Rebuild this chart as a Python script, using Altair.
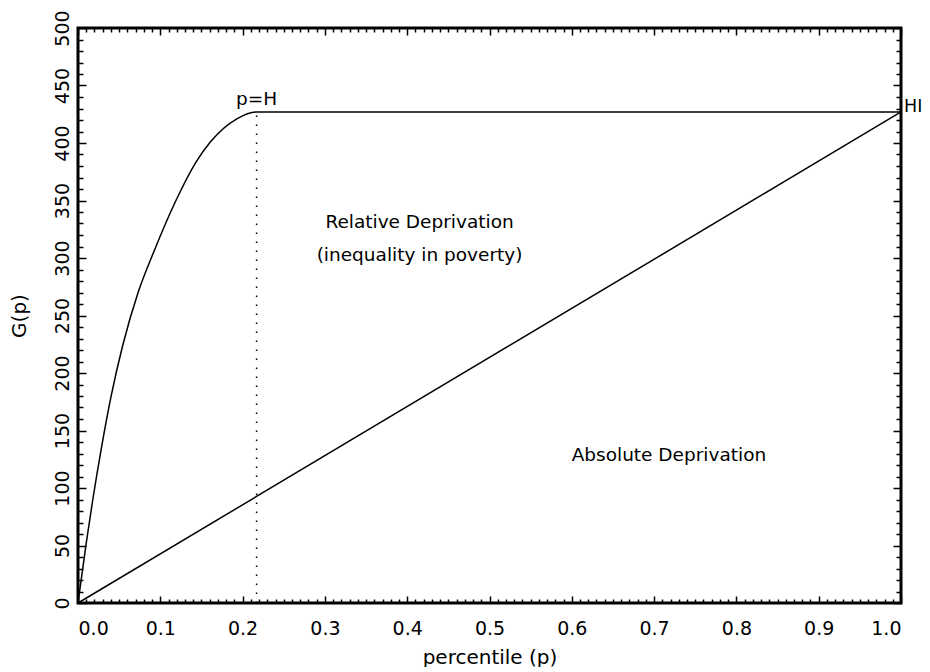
import altair as alt
import pandas as pd

# ---- data ----
p_curve = [0.0, 0.010, 0.018, 0.028, 0.040, 0.054, 0.073, 0.093, 0.119, 0.143, 0.161, 0.193, 0.217, 1.0]
g_curve = [0, 52, 90, 133, 179, 223, 270, 307, 350, 383, 401, 421, 427, 427]

diag_p = [0.0, 1.0]
diag_g = [0, 427]

H = 0.217
HI = 427

ann_text = ["Relative Deprivation", "(inequality in poverty)", "Absolute Deprivation", "p=H"]
ann_p = [0.415, 0.415, 0.718, 0.217]
ann_g = [331, 303, 129, 438]

hi_text = ["HI"]
hi_p = [1.0]
hi_g = [427]

x_major = [round(i * 0.1, 1) for i in range(11)]
x_minor = [round(i * 0.01, 2) for i in range(101) if i % 10 != 0]
y_major = list(range(0, 501, 50))
y_minor = [v for v in range(0, 501, 10) if v % 50 != 0]

W, HPX = 823, 575
PAD_L, PAD_T = 70, 20
PAD_R = 914 - PAD_L - W
PAD_B = 64
FONT = "DejaVu Sans"

xs = alt.Scale(domain=[0, 1], nice=False, zero=False)
ys = alt.Scale(domain=[0, 500], nice=False, zero=False)


def tick_axis(orient, offset, values, size):
    return alt.Axis(orient=orient, offset=offset, values=values, tickSize=size,
                    labels=False, domain=False, grid=False, title=None,
                    ticks=True, tickColor="black", tickWidth=1.5)


curve_df = pd.DataFrame({"p": p_curve, "g": g_curve})
diag_df = pd.DataFrame({"p": diag_p, "g": diag_g})
rule_df = pd.DataFrame({"p": [H], "g0": [0], "g1": [HI]})
ann_df = pd.DataFrame({"p": ann_p, "g": ann_g, "t": ann_text})
hi_df = pd.DataFrame({"p": hi_p, "g": hi_g, "t": hi_text})

x_label_axis = alt.Axis(orient="bottom", values=x_major, format=".1f", ticks=False, tickSize=0,
                        domain=False, grid=False, labelFont=FONT, labelFontSize=19,
                        labelColor="black", labelPadding=16, labelOverlap=False,
                        title="percentile (p)", titleFont=FONT, titleFontSize=20,
                        titleFontWeight="normal", titleColor="black", titlePadding=9)
y_label_axis = alt.Axis(orient="left", values=y_major, ticks=False, tickSize=0,
                        domain=False, grid=False, labelFont=FONT, labelFontSize=19,
                        labelColor="black", labelPadding=6, labelAngle=270,
                        labelAlign="center", labelBaseline="bottom", labelOverlap=False,
                        labelFlush=False,
                        title="G(p)", titleFont=FONT, titleFontSize=20,
                        titleFontWeight="normal", titleColor="black", titlePadding=24)

curve = alt.Chart(curve_df).mark_line(color="black", strokeWidth=1.5, interpolate="monotone").encode(
    x=alt.X("p:Q", scale=xs, axis=x_label_axis),
    y=alt.Y("g:Q", scale=ys, axis=y_label_axis),
)

diag = alt.Chart(diag_df).mark_line(color="black", strokeWidth=1.5).encode(
    x=alt.X("p:Q", scale=xs, axis=tick_axis("top", -HPX, x_major, 7)),
    y=alt.Y("g:Q", scale=ys, axis=tick_axis("right", -W, y_major, 8)),
)

rule = alt.Chart(rule_df).mark_rule(color="black", strokeWidth=1.5, strokeDash=[1.5, 7.5]).encode(
    x=alt.X("p:Q", scale=xs, axis=tick_axis("bottom", -HPX, x_major, 7)),
    y=alt.Y("g0:Q", scale=ys, axis=tick_axis("left", -W, y_major, 8)),
    y2="g1:Q",
)

ann = alt.Chart(ann_df).mark_text(font=FONT, fontSize=18.5, color="black",
                                  align="center", baseline="middle").encode(
    x=alt.X("p:Q", scale=xs, axis=tick_axis("top", -HPX, x_minor, 4)),
    y=alt.Y("g:Q", scale=ys, axis=tick_axis("right", -W, y_minor, 5)),
    text="t:N",
)

hi = alt.Chart(hi_df).mark_text(font=FONT, fontSize=17.5, color="black",
                                align="left", baseline="middle", dx=3, dy=-5).encode(
    x=alt.X("p:Q", scale=xs, axis=tick_axis("bottom", -HPX, x_minor, 4)),
    y=alt.Y("g:Q", scale=ys, axis=tick_axis("left", -W, y_minor, 5)),
    text="t:N",
)

chart = alt.layer(curve, diag, rule, ann, hi).resolve_axis(
    x="independent", y="independent"
).properties(
    width=W, height=HPX,
    padding={"left": PAD_L, "top": PAD_T, "right": PAD_R, "bottom": PAD_B},
    autosize=alt.AutoSizeParams(type="none"),
    background="white",
).configure_view(stroke="black", strokeWidth=3)

chart.save("out.html", embed_options={"renderer": "svg", "actions": False})
